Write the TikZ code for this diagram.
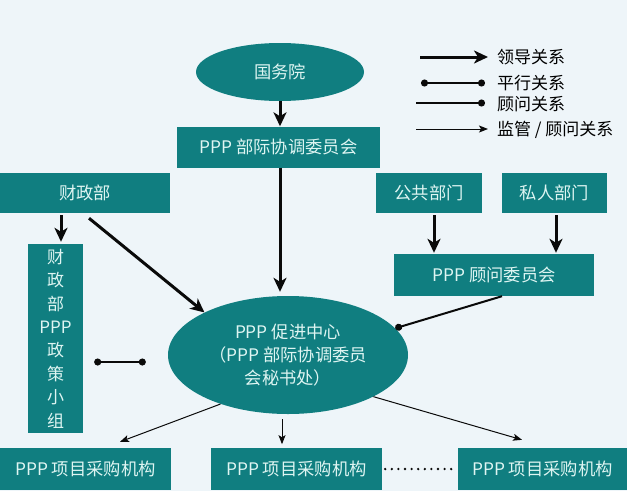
\documentclass[tikz,border=0pt]{standalone}
\usepackage{fontspec}
\newfontfamily\cjk{Noto Sans CJK SC}
\usetikzlibrary{shapes.geometric,arrows.meta,calc}
\definecolor{bgc}{RGB}{238,245,249}
\definecolor{teal1}{RGB}{16,126,128}
\definecolor{txtc}{RGB}{222,245,242}
\definecolor{ln}{RGB}{10,10,10}
\tikzset{
  box/.style={rectangle,fill=teal1,text=txtc,inner sep=0pt,font=\cjk\fontsize{17.3}{23}\selectfont,align=center},
  oval/.style={ellipse,fill=teal1,text=txtc,inner sep=0pt,font=\cjk\fontsize{17.3}{23}\selectfont,align=center},
  legtext/.style={anchor=west,inner sep=0pt,text=black,font=\cjk\fontsize{17}{20}\selectfont},
  lead/.style={draw=ln,line width=3pt,-{Stealth[length=14pt,width=13pt,inset=4pt]}},
  para/.style={draw=ln,line width=2pt,{Circle[length=7pt]}-{Circle[length=7pt]}},
  advi/.style={draw=ln,line width=2pt,-{Circle[length=7pt]}},
  mon/.style={draw=ln,line width=1pt,-{Stealth[length=9pt,width=7pt,inset=2pt]}},
  dotline/.style={draw=ln,line width=2.6pt,line cap=round,dash pattern=on 0pt off 6.6pt}
}
\begin{document}
\begin{tikzpicture}[x=1pt,y=-1pt]
\fill[bgc] (0,0) rectangle (627,491);
\useasboundingbox (0,0) rectangle (627,491);
% nodes
\node[oval,minimum width=168pt,minimum height=58pt] (gwy) at (280,72) {国务院};
\node[box,minimum width=203pt,minimum height=41pt] (cm) at (278.5,147) {PPP 部际协调委员会};
\node[box,minimum width=170pt,minimum height=40pt] (mof) at (85,193) {财政部};
\node[box,minimum width=106pt,minimum height=40pt] (pub) at (429,193) {公共部门};
\node[box,minimum width=105pt,minimum height=40pt] (pri) at (554.5,193) {私人部门};
\node[box,minimum width=200pt,minimum height=42pt] (adv) at (494,275) {PPP 顾问委员会};
\node[box,minimum width=55pt,minimum height=189pt,font=\cjk\fontsize{17}{23.4}\selectfont] (pol) at (55.5,338.5) {财\\政\\部\\PPP\\政\\策\\小\\组};
\node[oval,minimum width=240pt,minimum height=118pt] (ppp) at (288,355) {PPP 促进中心\\（PPP 部际协调委员\\会秘书处）};
\node[box,minimum width=171pt,minimum height=42pt] (b1) at (85.5,469) {PPP 项目采购机构};
\node[box,minimum width=171pt,minimum height=42pt] (b2) at (296.5,469) {PPP 项目采购机构};
\node[box,minimum width=169pt,minimum height=42pt] (b3) at (542.5,469) {PPP 项目采购机构};
% connectors
\draw[lead] (gwy.south) -- (gwy.south |- cm.north);
\draw[lead] (cm.south -| gwy.south) -- ($(gwy.south |- ppp.north)+(0,-4)$);
\draw[lead,shorten <=2pt] ($(mof.south)+(-24,0)$) -- ($(pol.north)+(5.5,-2)$);
\draw[lead] ($(mof.south)+(4,5)$) -- (ppp.153);
\draw[lead,shorten <=2pt] ($(pub.south)+(5,0)$) -- ($(pub.south |- adv.north)+(5,-1)$);
\draw[lead,shorten <=2pt] ($(pri.south)+(1.5,0)$) -- ($(pri.south |- adv.north)+(1.5,-1)$);
\draw[advi] ($(adv.south)+(8,0)$) -- (ppp.14);
\coordinate (pa) at ($(pol.east)+(11,23.5)$);
\coordinate (pb) at ($(ppp.west)+(-22,7)$);
\draw[para] (pa) -- (pb);
\draw[mon] (ppp.216) -- ($(b1.north)+(34.5,-6)$);
\draw[mon] ($(ppp.south)+(-6,5)$) -- ($(ppp.south)+(-6,30)$);
\draw[mon] (ppp.334) -- ($(b3.north)+(-20.5,-8)$);
\draw[dotline] ($(b2.east)+(3,0)$) -- ($(b3.west)+(-6,0)$);
% legend
\coordinate (l1a) at (420,57); \coordinate (l1b) at (488,57);
\coordinate (l2a) at (421,83); \coordinate (l2b) at (485,83);
\coordinate (l3a) at (416,103); \coordinate (l3b) at (485,103);
\coordinate (l4a) at (416,129); \coordinate (l4b) at (488,129);
\draw[lead] (l1a) -- (l1b);
\draw[para] (l2a) -- (l2b);
\draw[advi] (l3a) -- (l3b);
\draw[mon] (l4a) -- (l4b);
\node[legtext] (t1) at (497,57) {领导关系};
\node[legtext] (t2) at (497,83) {平行关系};
\node[legtext] (t3) at (497,104) {顾问关系};
\node[legtext] (t4) at (497,130) {监管 / 顾问关系};
\end{tikzpicture}
\end{document}
